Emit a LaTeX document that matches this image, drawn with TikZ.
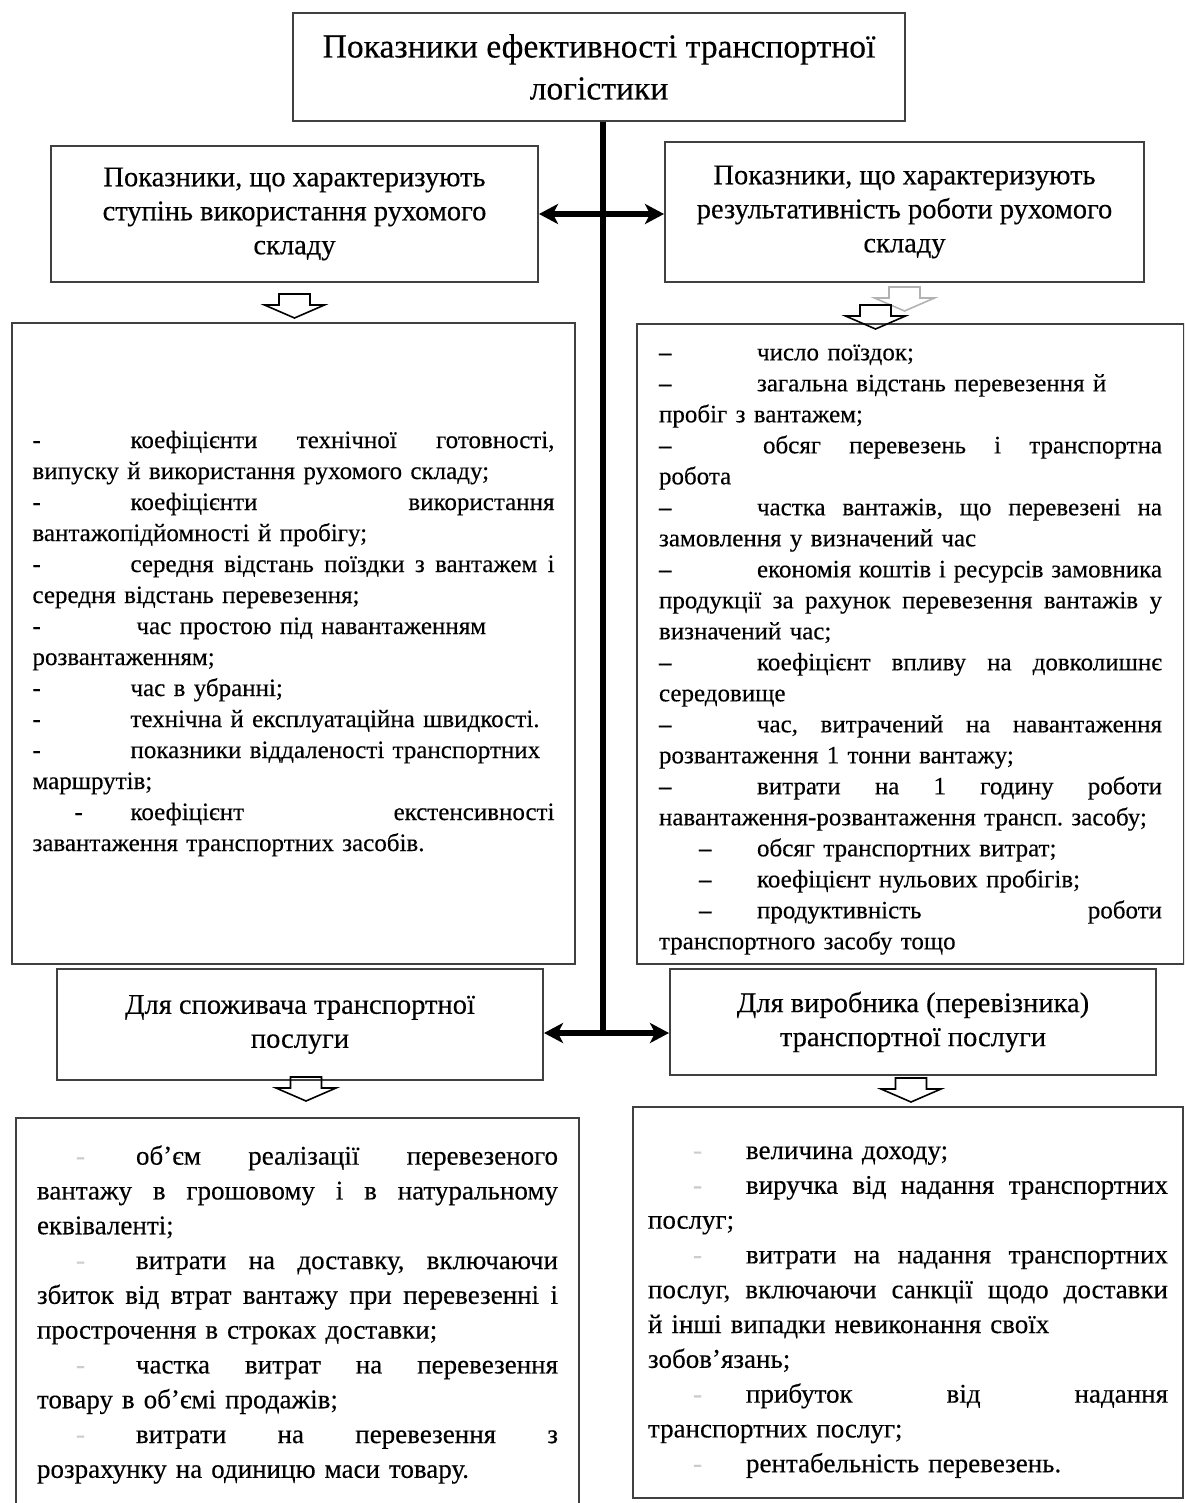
\documentclass[tikz,border=0pt]{standalone}
\usepackage{fontspec}
\setmainfont{Liberation Serif}[FakeBold=0.3]
\usepackage{tikz}
\usetikzlibrary{arrows.meta}

\newlength\jwidth
\newcommand\dt[2][98pt]{\makebox[#1][l]{#2}}
\newcommand\nd{{\bfseries –}}
\newcommand\fd[2]{\hspace*{#1}\makebox[#2][l]{\color{black!20}-}}
\newcommand\jl[1]{\leavevmode\hbox to\jwidth{\spaceskip=0pt\xspaceskip=0pt #1}}

\tikzset{hollowarrow/.pic={
  \draw[line width=1.6pt,line join=miter] (-15.5,0) -- (15.5,0) -- (15.5,11) -- (30,11)
    -- (0,24) -- (-30,11) -- (-15.5,11) -- cycle;}}

\begin{document}
\frenchspacing
\begin{tikzpicture}[x=1pt,y=-1pt,
    box/.style={draw=black!75,line width=2pt,inner sep=0pt,align=center,anchor=north west},
    title box/.style={box,font=\fontsize{33.6}{42}\selectfont},
    head box/.style={box,font=\fontsize{28.5}{34}\selectfont},
    list box/.style={box,align=left,font=\fontsize{25}{31}\selectfont},
    low box/.style={box,align=left,font=\fontsize{27}{34.8}\selectfont},
    link/.style={line width=6pt},
    dlink/.style={link,{Stealth[length=19pt,width=20pt,inset=5pt]}-{Stealth[length=19pt,width=20pt,inset=5pt]}}]

\useasboundingbox (0,0) rectangle (1184,1503);
\clip (0,0) rectangle (1184,1503);

\node[title box] (title) at (292,12) [minimum width=612pt,minimum height=108pt]
  {Показники ефективності транспортної\\логістики};

\node[head box] (lhead) at (50,145) [minimum width=487pt,minimum height=136pt]
  {Показники, що характеризують\\ступінь використання рухомого\\складу};
\node[head box] (rhead) at (664,141) [minimum width=479pt,minimum height=140pt]
  {Показники, що характеризують\\результативність роботи рухомого\\складу};

\node[list box] (llist) at (11,322) [minimum width=563pt,minimum height=641pt,text width=522pt]
  {\setlength\jwidth{522pt}%
   \jl{\dt{-}коефіцієнти технічної готовності,}\\
   випуску й використання рухомого складу;\\
   \jl{\dt{-}коефіцієнти використання}\\
   вантажопідйомності й пробігу;\\
   \jl{\dt{-}середня відстань поїздки з вантажем і}\\
   середня відстань перевезення;\\
   \dt[104pt]{-}час простою під навантаженням\\
   розвантаженням;\\
   \dt{-}час в убранні;\\
   \dt{-}технічна й експлуатаційна швидкості.\\
   \dt{-}показники віддаленості транспортних\\
   маршрутів;\\
   \jl{\hspace*{42pt}\dt[56pt]{-}коефіцієнт екстенсивності}\\
   завантаження транспортних засобів.};

\node[list box] (rlist) at (636,323) [minimum width=547pt,minimum height=640pt,text width=503pt]
  {\setlength\jwidth{503pt}%
   \rule{0pt}{27pt}\dt{\nd}число поїздок;\\
   \dt{\nd}загальна відстань перевезення й\\
   пробіг з вантажем;\\
   \jl{\dt[104pt]{\nd}обсяг перевезень і транспортна}\\
   робота\\
   \jl{\dt{\nd}частка вантажів, що перевезені на}\\
   замовлення у визначений час\\
   \jl{\dt{\nd}економія коштів і ресурсів замовника}\\
   \jl{продукції за рахунок перевезення вантажів у}\\
   визначений час;\\
   \jl{\dt{\nd}коефіцієнт впливу на довколишнє}\\
   середовище\\
   \jl{\dt{\nd}час, витрачений на навантаження}\\
   розвантаження 1 тонни вантажу;\\
   \jl{\dt{\nd}витрати на 1 годину роботи}\\
   навантаження-розвантаження трансп. засобу;\\
   \hspace*{40pt}\dt[58pt]{\nd}обсяг транспортних витрат;\\
   \hspace*{40pt}\dt[58pt]{\nd}коефіцієнт нульових пробігів;\\
   \jl{\hspace*{40pt}\dt[58pt]{\nd}продуктивність роботи}\\
   транспортного засобу тощо};

\node[head box] (lcons) at (56,968) [minimum width=486pt,minimum height=111pt]
  {Для споживача транспортної\\послуги};
\node[head box] (rcons) at (669,968) [minimum width=486pt,minimum height=106pt]
  {Для виробника (перевізника)\\транспортної послуги};

\node[low box] (llow) at (15,1117) [minimum width=563pt,minimum height=393pt,text width=521pt]
  {\setlength\jwidth{521pt}%
   \jl{\fd{39pt}{60pt}об'єм реалізації перевезеного}\\
   \jl{вантажу в грошовому і в натуральному}\\
   еквіваленті;\\
   \jl{\fd{39pt}{60pt}витрати на доставку, включаючи}\\
   \jl{збиток від втрат вантажу при перевезенні і}\\
   прострочення в строках доставки;\\
   \jl{\fd{39pt}{60pt}частка витрат на перевезення}\\
   товару в об'ємі продажів;\\
   \jl{\fd{39pt}{60pt}витрати на перевезення з}\\
   розрахунку на одиницю маси товару.};

\node[low box] (rlow) at (632,1106) [minimum width=550pt,minimum height=391pt,text width=520pt]
  {\setlength\jwidth{520pt}%
   \rule{0pt}{32pt}\fd{45pt}{53pt}величина доходу;\\
   \jl{\fd{45pt}{53pt}виручка від надання транспортних}\\
   послуг;\\
   \jl{\fd{45pt}{53pt}витрати на надання транспортних}\\
   \jl{послуг, включаючи санкції щодо доставки}\\
   й інші випадки невиконання своїх\\
   зобов'язань;\\
   \jl{\fd{45pt}{53pt}прибуток від надання}\\
   транспортних послуг;\\
   \fd{45pt}{53pt}рентабельність перевезень.};

\coordinate (hub) at (603,1033);

\draw[link] (title.south -| hub) -- (hub);
\draw[dlink] (lhead.east) -- (lhead.east -| rhead.west);
\draw[dlink] (hub -| lcons.east) -- (hub -| rcons.west);

\pic at ([yshift=-11pt]lhead.south) {hollowarrow};
\pic[color=black!30] at ([yshift=-4pt]rhead.south) {hollowarrow};
\pic at ([xshift=-29pt,yshift=-22pt]rhead.south) {hollowarrow};
\pic at ([xshift=6pt,yshift=4pt]lcons.south) {hollowarrow};
\pic at ([xshift=-2pt,yshift=-2pt]rcons.south) {hollowarrow};
\end{tikzpicture}
\end{document}
